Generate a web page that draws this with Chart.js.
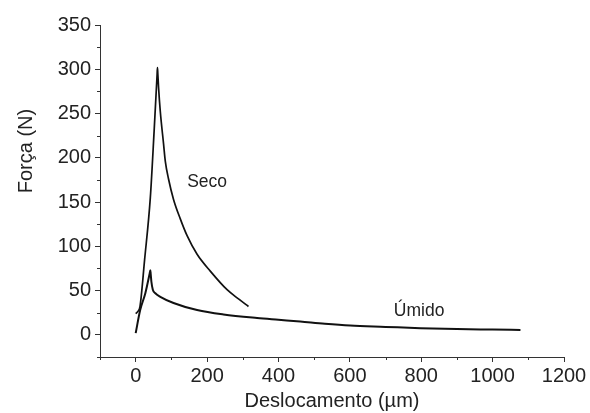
<!DOCTYPE html>
<html>
<head>
<meta charset="utf-8">
<script src="https://cdn.jsdelivr.net/npm/chart.js@4.4.0/dist/chart.umd.min.js"></script>
<style>
  body { margin: 0; background: #fff; }
  #wrap { width: 590px; height: 413px; position: relative; }
</style>
</head>
<body>
<div id="wrap"><canvas id="chart"></canvas></div>
<script>
// Seco (dry) curve, displacement in µm / force in N
const secoX = [0, 5, 12, 25, 41, 52, 60, 61, 62, 64, 69, 78, 83, 92, 106, 125, 144, 172, 209, 256, 290, 316];
const secoY = [24, 26, 32, 85, 155, 233, 294, 302, 295, 280, 252, 216, 196, 176, 153, 131, 112, 91, 72, 51, 40, 32];

// Úmido (wet) curve
const umidoX = [0, 12.6, 27, 39, 41, 42, 44, 48, 55, 69, 106, 172, 246, 340, 400, 461, 530, 601, 700, 798, 900, 1000, 1078];
const umidoY = [2, 28, 47, 69, 73, 69, 60, 51, 47, 43, 36, 28, 23, 19, 17, 15, 12.5, 10.5, 9, 7.5, 6.5, 6, 5.6];

const xTicks = [0, 200, 400, 600, 800, 1000, 1200];
const yTicks = [0, 50, 100, 150, 200, 250, 300, 350];
const xMinor = [-100, 100, 300, 500, 700, 900, 1100];
const yMinor = [-25, 25, 75, 125, 175, 225, 275, 325];

const curveLabels = [
  { text: 'Seco', x: 200, y: 172 },
  { text: 'Úmido', x: 794, y: 27 }
];

const FONT = "'Liberation Sans', Arial, sans-serif";
const INK = '#222';
const AXIS = '#333';

function toPoints(xs, ys) {
  return xs.map((x, i) => ({ x: x, y: ys[i] }));
}

const extras = {
  id: 'extras',
  afterDraw(chart) {
    const ctx = chart.ctx;
    const xs = chart.scales.x, ys = chart.scales.y;
    const area = chart.chartArea;
    ctx.save();
    // minor ticks
    ctx.strokeStyle = AXIS;
    ctx.lineWidth = 1;
    ctx.beginPath();
    xMinor.forEach(v => {
      const px = Math.round(xs.getPixelForValue(v)) + 0.5;
      ctx.moveTo(px, area.bottom);
      ctx.lineTo(px, area.bottom + 3);
    });
    yMinor.forEach(v => {
      const py = Math.round(ys.getPixelForValue(v)) + 0.5;
      ctx.moveTo(area.left, py);
      ctx.lineTo(area.left - 3, py);
    });
    ctx.stroke();

    // curve labels
    ctx.fillStyle = INK;
    ctx.font = '17.5px ' + FONT;
    ctx.textAlign = 'center';
    ctx.textBaseline = 'middle';
    curveLabels.forEach(l => {
      ctx.fillText(l.text, xs.getPixelForValue(l.x), ys.getPixelForValue(l.y));
    });

    // y axis title
    ctx.font = '20px ' + FONT;
    ctx.translate(26, 151);
    ctx.rotate(-Math.PI / 2);
    ctx.fillText('Força (N)', 0, 0);
    ctx.restore();
  }
};

new Chart(document.getElementById('chart'), {
  type: 'scatter',
  data: {
    datasets: [
      {
        label: 'Seco',
        data: toPoints(secoX, secoY),
        showLine: true,
        borderColor: '#111',
        borderWidth: 1.7,
        pointRadius: 0,
        cubicInterpolationMode: 'monotone'
      },
      {
        label: 'Úmido',
        data: toPoints(umidoX, umidoY),
        showLine: true,
        borderColor: '#111',
        borderWidth: 2,
        pointRadius: 0,
        cubicInterpolationMode: 'monotone'
      }
    ]
  },
  options: {
    responsive: true,
    maintainAspectRatio: false,
    animation: false,
    layout: { padding: { top: 25, right: 26, left: 0, bottom: 0 } },
    plugins: { legend: { display: false }, tooltip: { enabled: false } },
    scales: {
      x: {
        type: 'linear',
        min: -100,
        max: 1200,
        afterBuildTicks: s => { s.ticks = xTicks.map(v => ({ value: v })); },
        afterFit: s => { s.height = 56; },
        grid: { drawOnChartArea: false, drawTicks: true, tickLength: 5, color: AXIS },
        border: { color: AXIS, width: 1 },
        ticks: { color: INK, font: { family: FONT, size: 20 }, padding: 2, maxRotation: 0, callback: v => String(v) },
        title: { display: true, text: 'Deslocamento (µm)', color: INK, font: { family: FONT, size: 20 }, padding: 0 }
      },
      y: {
        type: 'linear',
        min: -25,
        max: 350,
        afterBuildTicks: s => { s.ticks = yTicks.map(v => ({ value: v })); },
        afterFit: s => { s.width = 100; },
        grid: { drawOnChartArea: false, drawTicks: true, tickLength: 5, color: AXIS },
        border: { color: AXIS, width: 1 },
        ticks: { color: INK, font: { family: FONT, size: 20 }, padding: 4, callback: v => String(v) }
      }
    }
  },
  plugins: [extras]
});
</script>
</body>
</html>
